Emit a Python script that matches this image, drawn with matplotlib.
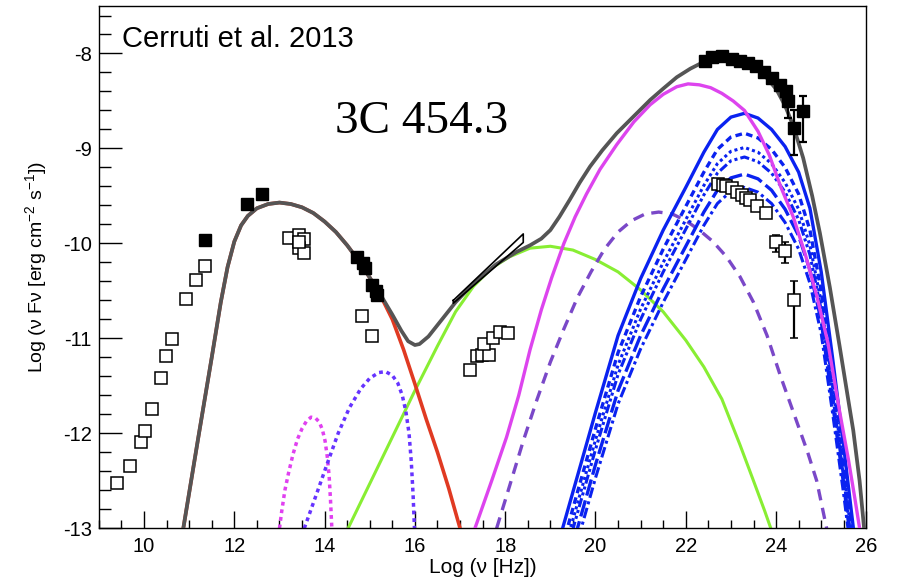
import numpy as np
import matplotlib
matplotlib.use("Agg")
import matplotlib.pyplot as plt
from matplotlib.ticker import MultipleLocator

plt.rcParams['font.family'] = ['Liberation Sans', 'DejaVu Sans']
plt.rcParams['mathtext.fontset'] = 'custom'
plt.rcParams['mathtext.rm'] = 'Liberation Sans'
plt.rcParams['mathtext.it'] = 'Liberation Sans:italic'
plt.rcParams['axes.unicode_minus'] = False

# ---- observed SED points (log nu [Hz], log nuFnu) ----
radio_open_x = [9.41, 9.69, 9.93, 10.02, 10.17, 10.37, 10.49, 10.61, 10.93, 11.16, 11.35]
radio_open_y = [-12.52, -12.34, -12.09, -11.98, -11.74, -11.42, -11.19, -11.01, -10.59, -10.39, -10.24]

ir_open_x = [13.20, 13.43, 13.54, 13.43, 13.54, 13.43]
ir_open_y = [-9.94, -9.91, -9.95, -10.05, -10.10, -9.98]

opt_open_x = [14.83, 15.06]
opt_open_y = [-10.76, -10.98]

xray_open_x = [17.23, 17.37, 17.49, 17.65, 17.54, 17.74, 17.88, 18.06]
xray_open_y = [-11.33, -11.19, -11.18, -11.17, -11.06, -11.00, -10.93, -10.94]

low_fill_x = [11.34, 12.27, 12.62, 14.71, 14.86, 14.89, 15.04, 15.14, 15.15]
low_fill_y = [-9.96, -9.59, -9.48, -10.14, -10.21, -10.26, -10.44, -10.50, -10.54]

# Fermi-LAT, high state (filled)
lat_high_x = [22.42, 22.57, 22.81, 23.02, 23.20, 23.38, 23.55, 23.73, 23.90, 24.09, 24.23]
lat_high_y = [-8.08, -8.04, -8.03, -8.06, -8.08, -8.10, -8.13, -8.20, -8.26, -8.33, -8.40]
lat_high_err_x = [24.26, 24.40, 24.59]
lat_high_err_y = [-8.50, -8.78, -8.61]
lat_high_err_lo = [0.18, 0.29, 0.32]
lat_high_err_hi = [0.11, 0.18, 0.16]

# Fermi-LAT, low state (open)
lat_low_x = [22.72, 22.82, 22.90, 23.02, 23.13, 23.24, 23.33, 23.42, 23.58, 23.78]
lat_low_y = [-9.37, -9.39, -9.40, -9.42, -9.46, -9.49, -9.52, -9.54, -9.61, -9.68]
lat_low_err_x = [24.00, 24.20, 24.40]
lat_low_err_y = [-9.98, -10.08, -10.60]
lat_low_err_lo = [0.11, 0.13, 0.40]
lat_low_err_hi = [0.07, 0.10, 0.20]

# X-ray butterfly
bowtie_x = [16.85, 18.40, 18.40, 16.85, 16.85]
bowtie_y = [-10.60, -9.90, -9.99, -10.63, -10.60]

# ---- model components ----
total_x = [10.87, 11.2, 11.5, 11.7, 11.85, 12.0, 12.15, 12.3, 12.5, 12.75, 13.0, 13.25,
           13.5, 13.75, 14.0, 14.25, 14.5, 14.75, 15.0, 15.25, 15.5, 15.7, 15.85, 16.0,
           16.1, 16.3, 16.6, 16.9, 17.3, 17.8, 18.25, 18.55, 18.8, 19.0, 19.2, 19.43,
           19.65, 19.88, 20.15, 20.47, 20.85, 21.21, 21.5, 21.8, 22.1, 22.39, 22.6, 22.8,
           23.0, 23.2, 23.4, 23.6, 23.8, 24.01, 24.2, 24.38, 24.6, 24.8, 24.97, 25.19,
           25.41, 25.6, 25.71, 25.85, 25.95]
total_y = [-13.0, -12.05, -11.2, -10.62, -10.25, -9.98, -9.81, -9.71, -9.63, -9.585, -9.57, -9.585,
           -9.62, -9.68, -9.77, -9.88, -10.02, -10.18, -10.36, -10.55, -10.75, -10.92, -11.03, -11.07,
           -11.06, -10.98, -10.8, -10.62, -10.42, -10.22, -10.09, -10.02, -9.95, -9.86, -9.72, -9.54,
           -9.36, -9.19, -9.02, -8.84, -8.66, -8.49, -8.37, -8.25, -8.16, -8.09, -8.06, -8.05,
           -8.05, -8.07, -8.11, -8.17, -8.26, -8.38, -8.55, -8.76, -9.1, -9.5, -9.89, -10.46,
           -11.09, -11.65, -11.97, -12.5, -13.0]

sync_x = [10.87, 11.2, 11.5, 11.7, 11.85, 12.0, 12.15, 12.3, 12.5, 12.75, 13.0, 13.25,
          13.5, 13.75, 14.0, 14.25, 14.5, 14.75, 15.0, 15.25, 15.5, 15.75, 16.0, 16.25,
          16.5, 16.75, 17.0]
sync_y = [-13.0, -12.05, -11.2, -10.62, -10.25, -9.98, -9.81, -9.71, -9.63, -9.585, -9.57, -9.585,
          -9.62, -9.68, -9.77, -9.88, -10.02, -10.18, -10.36, -10.56, -10.8, -11.12, -11.48, -11.85,
          -12.2, -12.58, -13.0]

dust_x = [13.0, 13.05, 13.12, 13.2, 13.3, 13.4, 13.5, 13.6, 13.7, 13.8, 13.88, 13.95,
          14.01, 14.06, 14.1, 14.13, 14.16]
dust_y = [-13.0, -12.82, -12.6, -12.42, -12.22, -12.06, -11.95, -11.87, -11.83, -11.84, -11.88, -11.96,
          -12.08, -12.25, -12.45, -12.7, -13.0]

disk_x = [13.55, 13.7, 13.85, 14.05, 14.3, 14.55, 14.8, 15.0, 15.2, 15.35, 15.5, 15.62,
          15.72, 15.8, 15.87, 15.92, 15.96, 15.99]
disk_y = [-13.0, -12.8, -12.6, -12.33, -12.0, -11.73, -11.53, -11.42, -11.36, -11.35, -11.39, -11.47,
          -11.6, -11.77, -12.0, -12.3, -12.65, -13.0]

ssc_x = [14.52, 15.0, 15.5, 16.0, 16.5, 16.9, 17.3, 17.7, 18.1, 18.55, 19.0, 19.5,
         20.0, 20.5, 21.0, 21.5, 22.0, 22.4, 22.8, 23.2, 23.5, 23.75, 23.92]
ssc_y = [-13.0, -12.53, -12.04, -11.55, -11.08, -10.72, -10.45, -10.26, -10.14, -10.05, -10.03, -10.07,
         -10.17, -10.3, -10.49, -10.72, -11.02, -11.3, -11.64, -12.12, -12.5, -12.82, -13.05]

ec_x = [17.33, 17.7, 18.03, 18.3, 18.55, 18.8, 19.03, 19.3, 19.55, 19.8, 20.1, 20.47,
        20.85, 21.21, 21.5, 21.8, 22.05, 22.3, 22.55, 22.8, 23.05, 23.3, 23.6, 23.85,
        24.1, 24.38, 24.65, 24.9, 25.15, 25.4, 25.6, 25.75, 25.85]
ec_y = [-13.0, -12.5, -12.04, -11.6, -11.12, -10.7, -10.36, -10.0, -9.72, -9.48, -9.22, -8.96,
        -8.72, -8.54, -8.43, -8.35, -8.32, -8.33, -8.36, -8.42, -8.5, -8.6, -8.82, -9.07,
        -9.4, -9.72, -10.12, -10.55, -11.05, -11.75, -12.27, -12.7, -13.0]

ecd_x = [17.81, 18.1, 18.4, 18.7, 19.0, 19.3, 19.6, 19.9, 20.2, 20.5, 20.8, 21.1,
         21.4, 21.7, 22.0, 22.3, 22.6, 22.9, 23.2, 23.5, 23.8, 24.1, 24.4, 24.7,
         24.9, 25.12]
ecd_y = [-13.0, -12.55, -12.08, -11.65, -11.25, -10.9, -10.57, -10.3, -10.06, -9.88, -9.76, -9.69,
         -9.67, -9.69, -9.76, -9.86, -9.98, -10.14, -10.35, -10.62, -10.97, -11.4, -11.8, -12.2,
         -12.5, -13.0]

# external-Compton family, shared frequency grid
blr_x = [19.2, 19.6, 20.0, 20.5, 21.0, 21.5, 22.0, 22.4, 22.7, 23.0, 23.3, 23.6,
         23.9, 24.2, 24.5, 24.75, 25.0, 25.25, 25.5, 25.75, 26.0]
blr_solid = [-13.12, -12.45, -11.78, -10.97, -10.37, -9.86, -9.41, -9.04, -8.80, -8.67, -8.63, -8.68,
             -8.80, -8.98, -9.25, -9.63, -10.3, -11.2, -12.15, -13.15, -14.0]
blr_dash = [-13.3, -12.62, -11.95, -11.15, -10.56, -10.06, -9.61, -9.25, -9.01, -8.88, -8.84, -8.89,
            -9.01, -9.2, -9.48, -9.86, -10.5, -11.4, -12.3, -13.3, -14.2]
blr_dot = [-13.42, -12.74, -12.07, -11.28, -10.69, -10.2, -9.75, -9.39, -9.16, -9.03, -8.99, -9.04,
           -9.16, -9.36, -9.64, -10.02, -10.62, -11.5, -12.4, -13.4, -14.3]
blr_dashdotdot = [-13.52, -12.84, -12.17, -11.38, -10.8, -10.3, -9.85, -9.49, -9.26, -9.13, -9.09, -9.14,
                  -9.26, -9.46, -9.75, -10.12, -10.7, -11.58, -12.48, -13.45, -14.4]
blr_longdash = [-13.68, -13.0, -12.33, -11.55, -10.97, -10.48, -10.03, -9.67, -9.44, -9.31, -9.27, -9.32,
                -9.44, -9.64, -9.92, -10.28, -10.82, -11.68, -12.55, -13.5, -14.5]
blr_dashdot = [-13.82, -13.14, -12.47, -11.69, -11.11, -10.62, -10.17, -9.81, -9.58, -9.45, -9.41, -9.46,
               -9.58, -9.78, -10.06, -10.42, -10.95, -11.78, -12.65, -13.6, -14.6]

fig = plt.figure(figsize=(8.99, 5.78), dpi=100)
ax = fig.add_axes([0.110, 0.086, 0.8537, 0.9036])

blue = '#0a22f0'
ax.plot(ssc_x, ssc_y, color='#88ee33', lw=2.2, zorder=2)
ax.plot(ecd_x, ecd_y, color='#7a48c8', lw=2.4, ls=(0, (3.4, 2.3)), zorder=2)
ax.plot(dust_x, dust_y, color='#e040f0', lw=2.5, ls=(0, (1.1, 1.1)), zorder=2)
ax.plot(disk_x, disk_y, color='#6633ff', lw=2.5, ls=(0, (1.1, 1.1)), zorder=2)

ax.plot(blr_x, blr_solid, color=blue, lw=2.4, zorder=3)
ax.plot(blr_x, blr_dash, color=blue, lw=2.4, ls=(0, (2.0, 1.3)), zorder=3)
ax.plot(blr_x, blr_dot, color=blue, lw=2.2, ls=(0, (1.0, 1.0)), zorder=3)
ax.plot(blr_x, blr_dashdotdot, color=blue, lw=2.2, ls=(0, (3, 1, 1, 1, 1, 1)), zorder=3)
ax.plot(blr_x, blr_longdash, color=blue, lw=2.4, ls=(0, (5, 1.5)), zorder=3)
ax.plot(blr_x, blr_dashdot, color=blue, lw=2.2, ls=(0, (3.5, 1.2, 1, 1.2)), zorder=3)

ax.plot(ec_x, ec_y, color='#dd44ee', lw=2.4, zorder=4)
ax.plot(sync_x, sync_y, color='#e03a22', lw=2.6, zorder=4)
ax.plot(total_x, total_y, color='#555555', lw=2.7, zorder=5)

ax.plot(bowtie_x, bowtie_y, color='black', lw=1.2, zorder=5)

open_kw = dict(ls='none', marker='s', ms=8, mfc='white', mec='black', mew=1.1, zorder=6)
fill_kw = dict(ls='none', marker='s', ms=8, mfc='black', mec='black', zorder=6)
for xs, ys in [(radio_open_x, radio_open_y), (ir_open_x, ir_open_y),
               (opt_open_x, opt_open_y), (xray_open_x, xray_open_y), (lat_low_x, lat_low_y)]:
    ax.plot(xs, ys, **open_kw)
ax.plot(low_fill_x, low_fill_y, **fill_kw)
ax.plot(lat_high_x, lat_high_y, **fill_kw)

ax.errorbar(lat_high_err_x, lat_high_err_y, yerr=[lat_high_err_lo, lat_high_err_hi],
            fmt='s', ms=8, mfc='black', mec='black', ecolor='black', elinewidth=1.6,
            capsize=3, capthick=1.6, zorder=6)
ax.errorbar(lat_low_err_x, lat_low_err_y, yerr=[lat_low_err_lo, lat_low_err_hi],
            fmt='s', ms=8, mfc='white', mec='black', mew=1.1, ecolor='black', elinewidth=1.6,
            capsize=3, capthick=1.6, zorder=6)

# axes in ROOT style
ax.set_xlim(9, 26)
ax.set_ylim(-13, -7.5)
ax.xaxis.set_minor_locator(MultipleLocator(0.5))
ax.yaxis.set_major_locator(MultipleLocator(1))
ax.yaxis.set_minor_locator(MultipleLocator(0.2))
ax.set_xticks(np.arange(10, 27, 2))
ax.tick_params(axis='x', which='major', direction='in', length=12, width=1.0,
               labelsize=14.5, pad=6, top=False)
ax.tick_params(axis='x', which='minor', direction='in', length=6, width=1.0, top=False)
ax.tick_params(axis='y', which='major', direction='in', length=16.5, width=1.0,
               labelsize=14.5, pad=5, right=False)
ax.tick_params(axis='y', which='minor', direction='in', length=8.5, width=1.0, right=False)
for sp in ax.spines.values():
    sp.set_linewidth(1.0)

ax.set_xlabel('Log (\u03bd [Hz])', fontsize=15, labelpad=2)
ax.set_ylabel('Log (\u03bd F\u03bd [erg cm$^{-2}$ s$^{-1}$])', fontsize=14, labelpad=10)

ax.text(0.030, 0.9215, 'Cerruti et al. 2013', transform=ax.transAxes,
        fontsize=21, va='baseline', ha='left')
ax.text(0.308, 0.757, '3C 454.3', transform=ax.transAxes, family='Liberation Serif',
        fontsize=34, va='baseline', ha='left')

fig.savefig('out.png', dpi=100, facecolor='white')
